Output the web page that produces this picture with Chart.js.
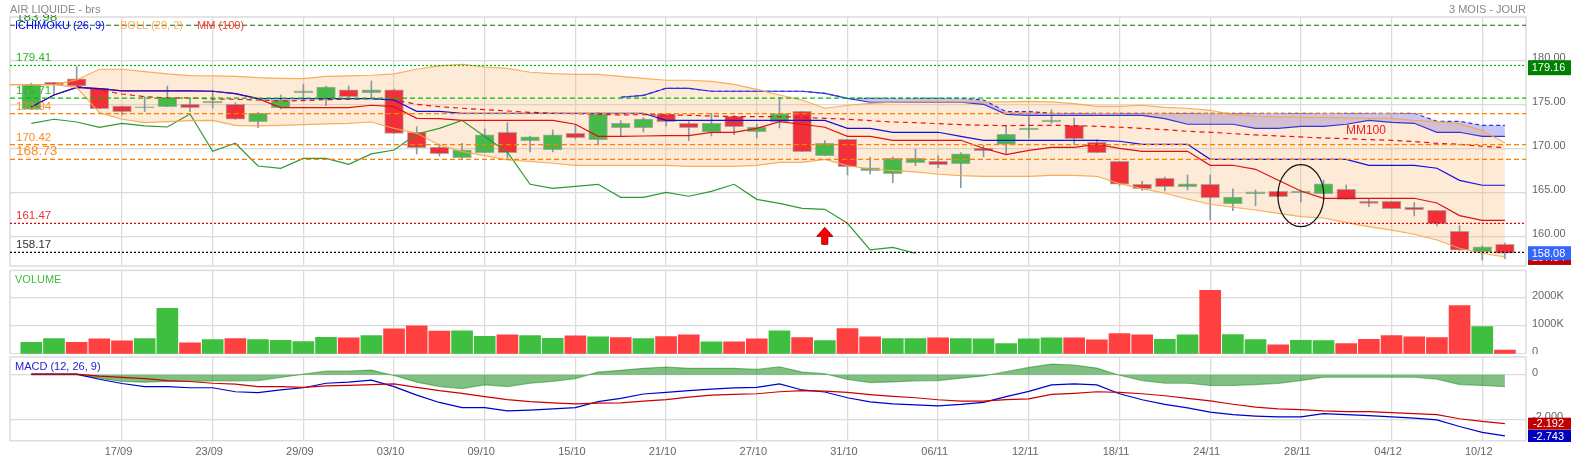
<!DOCTYPE html>
<html>
<head>
<meta charset="utf-8">
<title>AIR LIQUIDE - brs</title>
<script src="https://cdn.jsdelivr.net/npm/chart.js@4"></script>
<style>
  html, body { margin:0; padding:0; background:#fff; overflow:hidden; }
  canvas { position:absolute; left:0; }
</style>
</head>
<body>
<canvas id="priceChart" width="1571" height="267" style="top:0"></canvas>
<canvas id="volumeChart" width="1571" height="87" style="top:267px"></canvas>
<canvas id="macdChart" width="1571" height="105" style="top:354px"></canvas>
<script>
// values
const dateTicks = [4,8,12,16,20,24,28,32,36,40,44,48,52,56,60,64];
const dateLabels = ['17/09','23/09','29/09','03/10','09/10','15/10','21/10','27/10','31/10','06/11','12/11','18/11','24/11','28/11','04/12','10/12'];

const priceTicks = [160,165,170,175,180];
const volumeTicks = [0,1000,2000];
const macdTicks = [-2,0];

const opens = [174.43,177.50,177.88,176.82,174.81,174.62,174.73,175.00,175.15,175.00,173.03,174.62,176.33,175.68,176.63,176.33,176.63,171.82,170.15,168.94,169.51,171.82,170.87,169.85,171.70,170.98,172.35,172.35,173.90,172.84,171.86,173.64,171.89,173.03,174.20,169.17,171.02,167.47,167.12,168.37,168.52,168.26,170.00,170.45,172.12,172.99,172.61,170.68,168.52,165.91,166.59,165.64,165.91,163.71,164.85,165.11,164.96,164.85,165.34,163.98,163.98,163.30,162.95,160.57,158.26,159.09];
const closes = [177.20,177.20,177.08,174.51,174.17,174.70,175.72,174.62,175.34,173.30,173.98,175.45,176.52,176.97,175.87,176.63,171.70,170.08,169.39,169.81,171.52,169.51,171.29,171.52,171.21,173.90,172.84,173.33,173.03,172.35,172.84,172.46,172.42,173.94,169.62,170.57,167.92,167.77,168.86,168.86,168.14,169.36,169.73,171.59,172.31,173.22,171.10,169.51,165.91,165.42,165.64,165.95,164.39,164.47,165.04,164.51,165.15,165.95,164.20,163.75,163.14,163.03,161.44,158.41,158.79,158.08];
const highs = [177.39,177.50,179.28,176.82,174.81,175.87,177.08,175.68,176.63,175.19,174.09,176.06,177.27,177.08,177.08,177.65,176.74,172.46,170.49,170.57,172.20,172.92,171.40,172.08,172.73,174.09,173.14,173.48,173.98,173.03,173.98,173.71,172.76,175.80,174.20,170.87,171.02,168.98,169.02,169.92,169.13,169.51,170.34,172.61,173.60,174.36,173.44,170.95,168.52,166.25,166.74,166.97,166.97,165.38,165.27,165.11,165.27,166.40,165.83,164.24,163.98,163.83,162.95,161.21,158.90,159.24];
const lows = [174.43,176.06,176.93,174.51,173.79,174.17,174.73,174.17,174.55,173.30,172.35,174.47,175.49,174.85,175.61,175.68,171.70,169.36,169.13,168.79,169.51,168.86,169.58,169.58,171.06,170.49,171.40,171.86,172.54,170.87,171.40,171.55,171.17,172.31,169.62,169.17,166.97,167.09,166.10,168.03,167.80,165.52,169.05,169.32,171.17,172.84,170.42,169.51,165.72,165.19,165.15,165.27,161.86,162.92,163.48,164.51,163.90,164.85,164.20,163.37,163.14,162.31,161.17,158.41,157.31,157.47];

// bollinger starts one session before the first candle
const bollUpper = [177.23,177.23,177.23,177.77,178.98,178.98,178.71,178.45,178.26,178.22,178.18,178.03,177.95,177.92,178.18,178.22,178.30,178.45,178.98,179.36,179.55,179.24,179.09,178.64,178.48,178.41,178.41,178.18,177.95,177.73,177.73,177.61,177.27,176.70,176.06,175.49,174.55,174.89,175.11,175.23,175.27,175.27,175.27,175.27,175.27,175.34,175.27,175.08,174.77,174.77,174.89,174.66,174.55,174.32,173.83,173.64,173.56,173.52,173.52,173.45,173.41,173.41,173.18,173.03,172.77,172.01,170.64];
const bollLower = [177.23,177.23,177.23,176.93,174.05,173.30,172.92,173.03,173.14,173.18,172.61,172.54,172.61,172.69,172.77,172.84,172.99,172.27,171.70,170.38,169.62,169.17,168.67,168.52,168.30,168.07,168.07,168.07,168.07,168.07,167.95,167.95,167.95,168.07,168.41,168.41,168.75,168.03,167.65,167.47,167.31,167.05,166.89,166.82,166.82,166.82,166.93,166.93,166.82,165.98,165.42,164.89,164.24,163.64,163.30,162.99,162.61,162.23,162.08,161.55,161.09,160.71,160.23,159.58,158.64,158.07,157.65];

const tenkan = [174.70,176.06,176.93,176.78,176.52,176.52,176.52,176.52,176.48,176.21,175.64,174.62,174.62,174.62,174.62,174.89,174.73,173.41,173.37,173.18,173.18,173.18,173.18,173.18,172.73,171.36,171.36,171.40,171.44,171.44,171.82,171.82,172.27,173.03,172.73,172.39,171.36,171.36,170.91,170.91,170.91,170.91,170.00,169.28,169.77,170.11,170.11,170.45,170.00,169.66,169.66,169.66,168.07,168.07,167.61,166.36,165.15,164.32,164.32,164.32,164.32,164.32,163.79,162.35,161.82,161.82];
const kijun = [174.70,176.06,176.93,176.78,176.52,176.52,176.52,176.52,176.48,176.21,175.64,175.64,175.64,175.64,175.64,175.64,175.49,174.20,174.20,173.98,173.98,173.98,173.98,173.98,173.98,173.98,173.98,173.98,173.18,173.18,173.18,173.18,173.18,173.18,173.18,173.18,172.27,172.27,171.82,171.82,171.82,171.36,170.91,170.91,170.91,170.91,170.91,170.91,170.80,170.45,170.45,170.45,168.75,168.75,168.75,168.75,168.75,168.75,168.75,168.07,168.07,168.07,167.73,166.36,165.80,165.80];
// cloud spans start at session 26
const spanA = [175.80,176.02,176.82,176.82,176.48,176.48,176.48,176.48,176.48,176.25,175.68,175.23,175.23,175.23,175.23,175.23,175.00,173.86,173.75,173.75,173.75,173.75,173.75,173.75,173.37,172.73,172.73,172.73,172.27,172.27,172.50,172.50,172.73,173.18,172.95,172.84,171.82,171.82,171.36,171.36];
const spanB = [175.80,176.02,176.82,176.82,176.48,176.48,176.48,176.48,176.48,176.25,175.68,175.68,175.68,175.68,175.68,175.68,175.49,174.17,174.17,173.98,173.98,173.98,173.98,173.98,173.98,173.98,173.98,173.98,173.98,173.98,173.98,173.98,173.98,173.98,173.98,173.98,173.07,173.07,172.61,172.61];
const chikou = [172.84,173.30,172.99,172.39,172.84,172.54,172.42,173.90,169.66,170.57,167.99,167.73,168.86,168.86,168.18,169.36,169.81,171.63,172.27,173.18,171.33,169.55,165.91,165.45,165.68,165.91,164.43,164.43,165.00,164.55,165.11,165.91,164.20,163.75,163.18,163.07,161.48,158.45,158.75,158.07];
// moving average starts at session 2
const mm100 = [177.08,176.63,176.17,175.87,175.72,175.72,175.61,175.57,175.49,175.38,175.42,175.53,175.57,175.64,175.49,175.00,174.73,174.55,174.39,174.24,174.09,173.98,173.94,173.86,173.79,173.83,173.79,173.75,173.67,173.60,173.60,173.60,173.52,173.41,173.30,173.14,172.99,172.92,172.80,172.69,172.61,172.58,172.61,172.61,172.58,172.50,172.39,172.27,172.12,171.93,171.82,171.67,171.52,171.40,171.29,171.17,171.10,170.98,170.91,170.76,170.57,170.45,170.23,170.08];

const levelPrices = [183.98,179.41,175.71,173.94,170.42,168.73,161.47,158.17];

const volumes = [417,548,417,536,464,548,1619,393,512,548,512,488,440,595,571,655,893,1000,810,821,631,679,655,560,643,607,583,548,619,679,429,429,536,821,583,476,905,607,548,548,571,548,536,369,536,571,571,500,726,679,524,679,2262,690,512,321,488,476,369,524,655,607,583,1714,976,143];
const volumeUp = [1,1,0,0,0,1,1,0,1,0,1,1,1,1,0,1,0,0,0,1,1,0,1,1,0,1,0,1,0,0,1,0,0,1,0,1,0,0,1,1,0,1,1,1,1,1,0,0,0,0,1,1,0,1,1,0,1,1,0,0,0,0,0,0,1,0];

const macdLine = [0.03,0.03,0.03,-0.20,-0.39,-0.53,-0.53,-0.58,-0.58,-0.76,-0.80,-0.68,-0.58,-0.38,-0.33,-0.24,-0.53,-0.91,-1.24,-1.47,-1.47,-1.62,-1.58,-1.53,-1.47,-1.20,-1.06,-0.86,-0.79,-0.71,-0.64,-0.59,-0.56,-0.41,-0.68,-0.77,-1.03,-1.21,-1.30,-1.35,-1.39,-1.33,-1.24,-0.98,-0.74,-0.45,-0.41,-0.45,-0.85,-1.12,-1.33,-1.48,-1.67,-1.79,-1.85,-1.89,-1.89,-1.74,-1.79,-1.83,-1.89,-1.94,-2.02,-2.32,-2.58,-2.74];
const signalLine = [0.03,0.03,0.03,-0.06,-0.12,-0.17,-0.26,-0.30,-0.38,-0.42,-0.53,-0.53,-0.56,-0.50,-0.47,-0.44,-0.41,-0.56,-0.71,-0.83,-0.98,-1.11,-1.20,-1.26,-1.30,-1.27,-1.26,-1.18,-1.11,-1.00,-0.91,-0.88,-0.85,-0.76,-0.71,-0.73,-0.79,-0.89,-0.97,-1.03,-1.12,-1.18,-1.18,-1.11,-1.08,-0.88,-0.83,-0.76,-0.79,-0.85,-0.94,-1.06,-1.17,-1.32,-1.45,-1.53,-1.56,-1.62,-1.65,-1.65,-1.70,-1.74,-1.79,-1.97,-2.09,-2.19];
const macdHist = [0,0,0,-0.15,-0.30,-0.33,-0.30,-0.30,-0.27,-0.27,-0.26,-0.12,0.03,0.17,0.17,0.21,-0.03,-0.33,-0.53,-0.62,-0.45,-0.53,-0.38,-0.30,-0.17,0.12,0.20,0.29,0.35,0.29,0.29,0.29,0.24,0.36,0.12,0.05,-0.21,-0.35,-0.32,-0.27,-0.26,-0.15,-0.05,0.14,0.33,0.48,0.44,0.30,-0.02,-0.26,-0.38,-0.38,-0.48,-0.48,-0.44,-0.39,-0.26,-0.11,-0.11,-0.11,-0.11,-0.11,-0.20,-0.44,-0.48,-0.53];

// looks, kept apart from the values
const GREEN = '#45b94a', RED = '#f22e38';
const FONT = '"Liberation Sans", Arial, sans-serif';
const GRID = '#dcdcdc';
const levelLooks = [
  {color:'#0a6e0a', text:'#2a9a2a', dash:[5,3], size:13.5},
  {color:'#00b000', text:'#22b822', dash:[2,2], size:11.5},
  {color:'#00c000', text:'#22b822', dash:[5,3], size:11.5},
  {color:'#ff8000', text:'#ff8a1e', dash:[5,3], size:11.5},
  {color:'#ff8000', text:'#ff8a1e', dash:[5,3], size:11.5},
  {color:'#ff8000', text:'#ff8a1e', dash:[5,3], size:13.5},
  {color:'#e00000', text:'#ee3030', dash:[2,2], size:11.5},
  {color:'#000000', text:'#333333', dash:[2,2], size:11.5}
];

const xMin = -0.94, xMax = 65.93;
const pts = (values, start) => values.map((y, i) => ({x:start + i, y}));

function xAxis(showLabels) {
  return {
    type:'linear', min:xMin, max:xMax, offset:false,
    afterBuildTicks: s => { s.ticks = dateTicks.map(value => ({value})); },
    // the panels are pinned: no room for overflowing labels
    afterFit: s => {
      s.height = showLabels ? 18.3 : 0;
      s.paddingLeft = s.paddingRight = 0;
    },
    grid:{color:GRID, lineWidth:1.3, drawTicks:false, offset:false},
    border:{display:false},
    ticks:{
      display:showLabels, autoSkip:false, maxRotation:0, padding:5, labelOffset:-3.5,
      color:'#666', font:{family:FONT, size:11},
      callback:(v, i) => dateLabels[i]
    }
  };
}

function yAxis(min, max, tickValues, fmt) {
  return {
    position:'right', min, max,
    afterBuildTicks: s => { s.ticks = tickValues.map(value => ({value})); },
    afterFit: s => {
      s.width = 45;
      s.paddingTop = s.paddingBottom = 0;
    },
    grid:{color:GRID, lineWidth:1.3, drawTicks:false},
    border:{display:false},
    ticks:{
      autoSkip:false, padding:6, labelOffset:-2, crossAlign:'near',
      color:'#666', font:{family:FONT, size:11},
      callback:fmt
    }
  };
}

const line = (label, data, color, extra) => Object.assign({
  type:'line', label, data, borderColor:color, borderWidth:1.2,
  pointRadius:0, tension:0, fill:false, order:2
}, extra);

function text(ctx, str, x, y, color, size, align) {
  ctx.font = size + 'px ' + FONT;
  ctx.fillStyle = color;
  ctx.textAlign = align || 'left';
  ctx.textBaseline = 'alphabetic';
  ctx.fillText(str, x, y);
}

function tag(ctx, y, h, bg, str) {
  ctx.fillStyle = bg;
  ctx.fillRect(1528, y - h / 2, 43, h);
  ctx.font = '11px ' + FONT;
  ctx.fillStyle = '#fff';
  ctx.textAlign = 'center';
  ctx.textBaseline = 'middle';
  ctx.fillText(str, 1548.5, y + 0.5);
}

const panelFrame = {
  id:'panelFrame',
  beforeDatasetsDraw(chart) {
    const {ctx, chartArea:a} = chart;
    ctx.save();
    ctx.strokeStyle = GRID;
    ctx.lineWidth = 1.5;
    ctx.strokeRect(a.left, a.top, a.right - a.left, a.bottom - a.top);
    ctx.restore();
  }
};

const priceNotes = {
  id:'priceNotes',
  afterDraw(chart) {
    const {ctx, scales:{x, y}} = chart;
    ctx.save();
    text(ctx, 'AIR LIQUIDE - brs', 10, 13, '#888', 11);
    text(ctx, '3 MOIS - JOUR', 1526, 13, '#888', 11, 'right');
    text(ctx, 'ICHIMOKU (26, 9)', 15, 29, '#0000ff', 11);
    text(ctx, 'BOLL (20, 2)', 120, 29, '#ffaa55', 11);
    text(ctx, 'MM (100)', 197, 29, '#ff3333', 11);

    // level labels sit just above their line, the top one is cut by the title bar
    levelPrices.forEach((p, i) => {
      ctx.save();
      ctx.beginPath();
      ctx.rect(0, 15, 1526, 252);
      ctx.clip();
      text(ctx, p.toFixed(2), 16, y.getPixelForValue(p) - 4, levelLooks[i].text, levelLooks[i].size);
      ctx.restore();
    });

    text(ctx, 'MM100', x.getPixelForValue(58.87), y.getPixelForValue(172.05) + 4, '#ee2222', 12, 'center');

    // signal arrow under session 35
    const ax = x.getPixelForValue(35), ay = y.getPixelForValue(161.02);
    ctx.beginPath();
    ctx.moveTo(ax, ay);
    ctx.lineTo(ax + 8, ay + 9);
    ctx.lineTo(ax + 3, ay + 9);
    ctx.lineTo(ax + 3, ay + 17);
    ctx.lineTo(ax - 3, ay + 17);
    ctx.lineTo(ax - 3, ay + 9);
    ctx.lineTo(ax - 8, ay + 9);
    ctx.closePath();
    ctx.fillStyle = '#ff0000';
    ctx.fill();
    ctx.strokeStyle = '#a00000';
    ctx.lineWidth = 1;
    ctx.stroke();

    // hand drawn circle around session 56
    ctx.beginPath();
    ctx.ellipse(x.getPixelForValue(56), y.getPixelForValue(164.62), 23, 31, 0, 0, Math.PI * 2);
    ctx.strokeStyle = '#111';
    ctx.lineWidth = 1.2;
    ctx.stroke();

    tag(ctx, y.getPixelForValue(179.16), 15, '#008000', '179.16');
    tag(ctx, y.getPixelForValue(157.54), 14, '#c00000', '157.54');
    tag(ctx, y.getPixelForValue(158.08), 14, '#3366ff', '158.08');
    ctx.restore();
  }
};

const volumeNotes = {
  id:'volumeNotes',
  afterDraw(chart) { text(chart.ctx, 'VOLUME', 15, 16, '#3fbf3f', 11); }
};

const macdNotes = {
  id:'macdNotes',
  afterDraw(chart) {
    const {ctx, scales:{y}} = chart;
    text(ctx, 'MACD (12, 26, 9)', 15, 16, '#2222cc', 11);
    tag(ctx, y.getPixelForValue(-2.192), 12, '#c00000', '-2.192');
    tag(ctx, y.getPixelForValue(-2.743), 12, '#0000c0', '-2.743');
  }
};

const sharedPlugins = {
  legend:{display:false}, tooltip:{enabled:false}, title:{display:false},
  filler:{drawTime:'beforeDatasetsDraw', propagate:false}
};

new Chart(document.getElementById('priceChart'), {
  type:'bar',
  plugins:[panelFrame, priceNotes],
  data:{datasets:[
    line('Boll haut', pts(bollUpper, -1), 'rgba(250,165,70,.9)', {
      fill:'+1', backgroundColor:'rgba(245,170,90,.24)'
    }),
    line('Boll bas', pts(bollLower, -1), 'rgba(250,165,70,.9)'),
    line('Span B', pts(spanB, 26), '#3333dd', {
      borderDash:[4,3], fill:'+1', backgroundColor:'rgba(70,70,230,.3)'
    }),
    line('Span A', pts(spanA, 26), '#3333dd'),
    {
      label:'Mèches', data:lows.map((l, i) => ({x:i, y:[l, highs[i]]})),
      backgroundColor:'#8a9aa5', barThickness:1, grouped:false, order:5
    },
    {
      label:'Corps', data:opens.map((o, i) => ({x:i, y:[o, closes[i]]})),
      backgroundColor:opens.map((o, i) => closes[i] >= o ? GREEN : RED),
      borderColor:'rgba(130,130,130,.65)', borderWidth:1, borderSkipped:false,
      barThickness:18.7, grouped:false, order:4
    },
    line('Kijun', pts(kijun, 0), '#1111dd'),
    line('Tenkan', pts(tenkan, 0), '#e01010'),
    line('MM100', pts(mm100, 2), '#ee1111', {borderDash:[5,4]}),
    line('Chikou', pts(chikou, 0), '#2e9a2e'),
    ...levelPrices.map((p, i) => line('Niveau ' + p, [{x:xMin, y:p}, {x:xMax, y:p}], levelLooks[i].color, {
      borderDash:levelLooks[i].dash, order:1
    }))
  ]},
  options:{
    responsive:false, animation:false, devicePixelRatio:1,
    layout:{padding:{left:10, right:0, top:17, bottom:1}},
    plugins:sharedPlugins,
    scales:{
      x:xAxis(false),
      y:yAxis(156.625, 184.92, priceTicks, v => v.toFixed(2))
    }
  }
});

new Chart(document.getElementById('volumeChart'), {
  type:'bar',
  plugins:[panelFrame, volumeNotes],
  data:{datasets:[{
    label:'Volume', data:pts(volumes, 0),
    backgroundColor:volumeUp.map(u => u ? '#3fbf3f' : '#ff4040'),
    barThickness:21
  }]},
  options:{
    responsive:false, animation:false, devicePixelRatio:1,
    layout:{padding:{left:10, right:0, top:3.4, bottom:0}},
    plugins:sharedPlugins,
    scales:{
      x:xAxis(false),
      y:yAxis(0, 2965, volumeTicks, v => v === 0 ? '0' : v + 'K')
    }
  }
});

new Chart(document.getElementById('macdChart'), {
  type:'line',
  plugins:[panelFrame, macdNotes],
  data:{datasets:[
    line('Histogramme', pts(macdHist, 0), 'rgba(0,128,0,.45)', {
      fill:{value:0}, backgroundColor:'rgba(0,128,0,.5)', order:3
    }),
    line('Signal', pts(signalLine, 0), '#cc0000'),
    line('MACD', pts(macdLine, 0), '#0000cc')
  ]},
  options:{
    responsive:false, animation:false, devicePixelRatio:1,
    layout:{padding:{left:10, right:0, top:3, bottom:0}},
    plugins:sharedPlugins,
    scales:{
      x:xAxis(true),
      y:yAxis(-2.955, 0.798, macdTicks, v => v === 0 ? '0' : v.toFixed(3))
    }
  }
});
</script>
</body>
</html>
